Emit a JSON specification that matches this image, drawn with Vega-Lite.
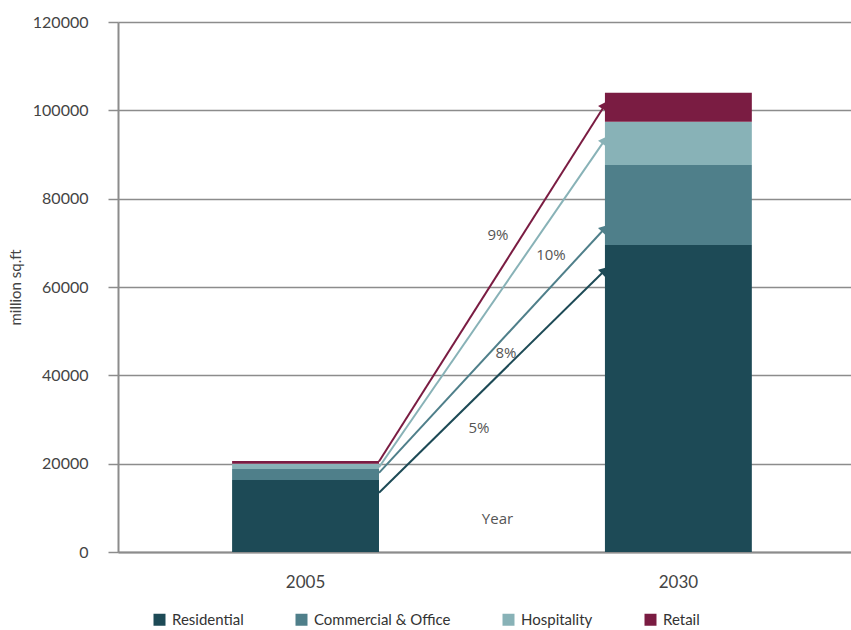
{
  "$schema": "https://vega.github.io/schema/vega-lite/v6.json",
  "width": 733,
  "height": 530,
  "autosize": {"type": "none"},
  "padding": {"left": 118, "top": 22, "right": 0, "bottom": 78},
  "background": "white",
  "config": {"view": {"stroke": null}},
  "datasets": {
    "bars": [
      {"year": "2005", "category": "Residential", "value": 16300},
      {"year": "2005", "category": "Commercial & Office", "value": 2500},
      {"year": "2005", "category": "Hospitality", "value": 1200},
      {"year": "2005", "category": "Retail", "value": 600},
      {"year": "2030", "category": "Residential", "value": 69500},
      {"year": "2030", "category": "Commercial & Office", "value": 18100},
      {"year": "2030", "category": "Hospitality", "value": 9800},
      {"year": "2030", "category": "Retail", "value": 6600}
    ],
    "arrows": [
      {"category": "Residential", "from": "2005", "to": "2030", "start": 13400, "end": 63800, "growth": "5%", "labelValue": 28100},
      {"category": "Commercial & Office", "from": "2005", "to": "2030", "start": 17900, "end": 73300, "growth": "8%", "labelValue": 45000},
      {"category": "Hospitality", "from": "2005", "to": "2030", "start": 19200, "end": 93300, "growth": "10%", "labelValue": 67200},
      {"category": "Retail", "from": "2005", "to": "2030", "start": 20500, "end": 101200, "growth": "9%", "labelValue": 71800}
    ]
  },
  "layer": [
    {
      "data": {"name": "bars"},
      "transform": [
        {"calculate": "indexof(['Residential','Commercial & Office','Hospitality','Retail'], datum.category)", "as": "stackOrder"}
      ],
      "mark": {"type": "bar"},
      "encoding": {
        "x": {
          "field": "year", "type": "nominal",
          "scale": {"paddingInner": 0.606, "paddingOuter": 0.286, "align": 0.535},
          "axis": {
            "title": "Year", "titleX": 379, "titleY": -34, "titleAlign": "center", "titleBaseline": "middle",
            "titleFont": "Open Sans", "titleFontSize": 15, "titleFontWeight": "normal", "titleColor": "#555555",
            "labelAngle": 0, "labelFont": "Lato", "labelFontSize": 17,
            "labelColor": "#444444", "labelPadding": 22,
            "domainColor": "#8c8c8c", "domainWidth": 2, "ticks": false
          }
        },
        "y": {
          "field": "value", "type": "quantitative", "stack": "zero",
          "scale": {"domain": [0, 120000], "nice": false},
          "axis": {
            "title": "million sq.ft", "titleX": -103, "titleBaseline": "middle", "titleFont": "Lato",
            "titleFontSize": 15, "titleFontWeight": "normal", "titleColor": "#444444",
            "values": [0, 20000, 40000, 60000, 80000, 100000, 120000], "format": "d",
            "labelFont": "Lato", "labelFontSize": 16, "labelColor": "#444444", "labelPadding": 20,
            "tickSize": 10, "tickColor": "#8c8c8c", "tickWidth": 1.5,
            "domainColor": "#8c8c8c", "domainWidth": 2,
            "grid": true, "gridColor": "#8c8c8c", "gridWidth": 1.5
          }
        },
        "order": {"field": "stackOrder", "type": "quantitative", "sort": "ascending"},
        "color": {
          "field": "category", "type": "nominal",
          "sort": ["Residential", "Commercial & Office", "Hospitality", "Retail"],
          "scale": {
            "domain": ["Residential", "Commercial & Office", "Hospitality", "Retail"],
            "range": ["#1d4a56", "#4f7f8a", "#88b2b7", "#7a1c42"]
          },
          "legend": {
            "title": null, "orient": "none", "legendX": 34, "legendY": 590, "direction": "horizontal", "columns": 4,
            "symbolType": "square", "symbolSize": 144, "symbolStrokeWidth": 0, "symbolOpacity": 1,
            "labelFont": "Lato", "labelFontSize": 15, "labelColor": "#333333",
            "columnPadding": 50, "labelOffset": 5
          }
        }
      }
    },
    {
      "data": {"name": "arrows"},
      "mark": {"type": "rule", "strokeWidth": 2},
      "encoding": {
        "x": {"field": "from", "type": "nominal", "bandPosition": 1},
        "x2": {"field": "to", "bandPosition": 0},
        "y": {"field": "start", "type": "quantitative"},
        "y2": {"field": "end"},
        "color": {"field": "category", "type": "nominal"}
      }
    },
    {
      "data": {"name": "arrows"},
      "mark": {"type": "point", "shape": "triangle-up", "filled": true, "size": 110, "opacity": 1},
      "encoding": {
        "x": {"field": "to", "type": "nominal", "bandPosition": 0},
        "y": {"field": "end", "type": "quantitative"},
        "color": {"field": "category", "type": "nominal"},
        "angle": {
          "field": "category", "type": "nominal", "legend": null,
          "scale": {"type": "ordinal", "domain": ["Residential", "Commercial & Office", "Hospitality", "Retail"], "range": [45.6, 42.9, 34.8, 32.5]}
        }
      }
    },
    {
      "data": {"name": "arrows"},
      "transform": [{"filter": "datum.category == 'Residential'"}],
      "mark": {"type": "text", "dx": 100, "font": "Open Sans", "fontSize": 15, "color": "#555555"},
      "encoding": {
        "x": {"field": "from", "type": "nominal", "bandPosition": 1},
        "y": {"field": "labelValue", "type": "quantitative"},
        "text": {"field": "growth"}
      }
    },
    {
      "data": {"name": "arrows"},
      "transform": [{"filter": "datum.category == 'Commercial & Office'"}],
      "mark": {"type": "text", "dx": 127, "font": "Open Sans", "fontSize": 15, "color": "#555555"},
      "encoding": {
        "x": {"field": "from", "type": "nominal", "bandPosition": 1},
        "y": {"field": "labelValue", "type": "quantitative"},
        "text": {"field": "growth"}
      }
    },
    {
      "data": {"name": "arrows"},
      "transform": [{"filter": "datum.category == 'Hospitality'"}],
      "mark": {"type": "text", "dx": 172, "font": "Open Sans", "fontSize": 15, "color": "#555555"},
      "encoding": {
        "x": {"field": "from", "type": "nominal", "bandPosition": 1},
        "y": {"field": "labelValue", "type": "quantitative"},
        "text": {"field": "growth"}
      }
    },
    {
      "data": {"name": "arrows"},
      "transform": [{"filter": "datum.category == 'Retail'"}],
      "mark": {"type": "text", "dx": 119, "font": "Open Sans", "fontSize": 15, "color": "#555555"},
      "encoding": {
        "x": {"field": "from", "type": "nominal", "bandPosition": 1},
        "y": {"field": "labelValue", "type": "quantitative"},
        "text": {"field": "growth"}
      }
    }
  ]
}
